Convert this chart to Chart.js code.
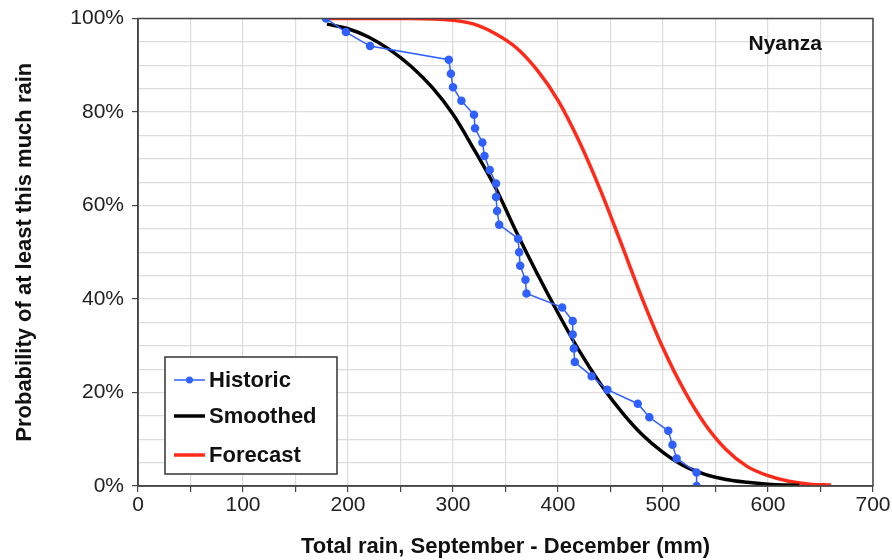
<!DOCTYPE html>
<html>
<head>
<meta charset="utf-8">
<script src="https://cdn.jsdelivr.net/npm/chart.js@4/dist/chart.umd.min.js"></script>
<style>
  html, body { margin: 0; padding: 0; background: #fff; }
  #wrap { width: 892px; height: 560px; }
</style>
</head>
<body>
<div id="wrap"><canvas id="rainChart" width="892" height="560"></canvas></div>
<script>
// Series names and the region label
const seriesNames = ['Historic', 'Smoothed', 'Forecast'];
const regionName = 'Nyanza';

// Historic observations: rain (mm) and probability of exceedance (%)
const historicRain = [179, 198, 221, 296, 298, 300, 308, 320, 321, 328, 330, 335,
    341, 341, 342, 344, 362, 363, 364, 369, 370, 404, 414, 414, 415, 416,
    432, 447, 476, 487, 505, 509, 513, 532, 532];
const historicProb = [100, 97.1, 94.1, 91.2, 88.2, 85.3, 82.4, 79.4, 76.5, 73.5, 70.6, 67.6,
    64.7, 61.8, 58.8, 55.9, 52.9, 50.0, 47.1, 44.1, 41.2, 38.2, 35.3, 32.4, 29.4, 26.5,
    23.5, 20.6, 17.6, 14.7, 11.8, 8.8, 5.9, 2.9, 0];

// Smoothed curve
const smoothRain = [180, 200, 220, 240, 260, 280, 300, 320, 340, 360, 380, 400, 420,
    440, 460, 480, 500, 520, 540, 560, 580, 600, 630];
const smoothProb = [98.8, 97.8, 96.0, 93.3, 89.8, 85.3, 79.5, 72.0, 64.0, 54.5, 45.5, 37.0, 29.0,
    22.0, 16.0, 11.0, 7.2, 4.3, 2.5, 1.4, 0.8, 0.4, 0.1];

// Forecast curve
const forecastRain = [181, 260, 300, 320, 340, 360, 380, 400, 420, 440, 460, 480, 500,
    520, 540, 560, 580, 600, 620, 640, 660];
const forecastProb = [100, 100, 99.6, 98.8, 96.8, 93.8, 89.0, 82.5, 73.8, 63.5, 52.0, 40.2, 29.5,
    20.5, 13.2, 7.8, 4.2, 2.2, 1.0, 0.4, 0.2];

function toPoints(xs, ys) {
    return xs.map(function(x, i) { return { x: x, y: ys[i] }; });
}

const FONT = "'Liberation Sans', Arial, sans-serif";

// plot frame, region label and boxed legend inside the plot area
const extrasPlugin = {
    id: 'extras',
    afterDraw: function(chart) {
        const ctx = chart.ctx;
        const area = chart.chartArea;
        ctx.save();
        ctx.strokeStyle = '#444';
        ctx.lineWidth = 1.5;
        ctx.strokeRect(area.left, area.top, area.right - area.left, area.bottom - area.top);

        ctx.fillStyle = '#111';
        ctx.font = 'bold 21px ' + FONT;
        ctx.textAlign = 'right';
        ctx.textBaseline = 'middle';
        ctx.fillText(regionName, area.right - 51, area.top + 26);

        // legend box
        const bx = area.left + 27, bw = 172, bh = 117;
        const by = area.bottom - 12 - bh;
        ctx.fillStyle = '#fff';
        ctx.fillRect(bx, by, bw, bh);
        ctx.strokeStyle = '#333';
        ctx.lineWidth = 1.5;
        ctx.strokeRect(bx, by, bw, bh);

        const rowY = [by + 23, by + 59, by + 98];
        chart.data.datasets.forEach(function(ds, i) {
            const y = rowY[i];
            ctx.strokeStyle = ds.borderColor;
            ctx.lineWidth = ds.borderWidth;
            ctx.beginPath();
            ctx.moveTo(bx + 9, y);
            ctx.lineTo(bx + 40, y);
            ctx.stroke();
            if (ds.pointRadius > 0) {
                ctx.fillStyle = ds.pointBackgroundColor;
                ctx.beginPath();
                ctx.arc(bx + 24.5, y, 3.5, 0, Math.PI * 2);
                ctx.fill();
            }
            ctx.fillStyle = '#111';
            ctx.font = 'bold 22px ' + FONT;
            ctx.textAlign = 'left';
            ctx.textBaseline = 'middle';
            ctx.fillText(ds.label, bx + 44, y + 1);
        });
        ctx.restore();
    }
};

const ctx = document.getElementById('rainChart').getContext('2d');
new Chart(ctx, {
    type: 'line',
    data: {
        datasets: [{
            label: seriesNames[0],
            data: toPoints(historicRain, historicProb),
            borderColor: '#3060ff',
            backgroundColor: '#3060ff',
            pointBackgroundColor: '#3060ff',
            pointBorderColor: '#3060ff',
            borderWidth: 1.5,
            pointRadius: 3.5,
            tension: 0
        }, {
            label: seriesNames[1],
            data: toPoints(smoothRain, smoothProb),
            borderColor: '#000',
            backgroundColor: '#000',
            borderWidth: 3.5,
            pointRadius: 0,
            cubicInterpolationMode: 'monotone'
        }, {
            label: seriesNames[2],
            data: toPoints(forecastRain, forecastProb),
            borderColor: '#ff2a1a',
            backgroundColor: '#ff2a1a',
            borderWidth: 3.5,
            pointRadius: 0,
            cubicInterpolationMode: 'monotone'
        }]
    },
    options: {
        responsive: false,
        animation: false,
        layout: { padding: { left: 0, right: 19, top: 16, bottom: 0 } },
        plugins: {
            legend: { display: false },
            tooltip: { enabled: false }
        },
        scales: {
            x: {
                type: 'linear',
                min: 0,
                max: 700,
                afterFit: function(scale) { scale.height = 74; },
                ticks: {
                    stepSize: 50,
                    autoSkip: false,
                    maxRotation: 0,
                    padding: 1,
                    color: '#222',
                    font: { family: FONT, size: 21 },
                    callback: function(v) { return v % 100 === 0 ? v : ''; }
                },
                grid: {
                    color: '#dcdcdc',
                    tickColor: '#444',
                    tickLength: 6,
                    lineWidth: 1.2
                },
                border: { color: '#444', width: 1.5 },
                title: {
                    display: true,
                    text: 'Total rain, September - December (mm)',
                    color: '#111',
                    font: { family: FONT, size: 22, weight: 'bold' },
                    padding: { top: 0, bottom: 0 }
                }
            },
            y: {
                min: 0,
                max: 100,
                afterFit: function(scale) { scale.width = 138; },
                ticks: {
                    stepSize: 5,
                    autoSkip: false,
                    padding: 8,
                    color: '#222',
                    font: { family: FONT, size: 21, lineHeight: 1 },
                    callback: function(v) { return v % 20 === 0 ? v + '%' : ''; }
                },
                grid: {
                    color: '#dcdcdc',
                    tickColor: function(c) { return c.tick && c.tick.value % 20 === 0 ? '#444' : 'rgba(0,0,0,0)'; },
                    tickLength: 6,
                    lineWidth: 1.2
                },
                border: { color: '#444', width: 1.5 },
                title: {
                    display: true,
                    text: 'Probability of at least this much rain',
                    color: '#111',
                    font: { family: FONT, size: 22, weight: 'bold' },
                    padding: { top: 12, bottom: 0 }
                }
            }
        }
    },
    plugins: [extrasPlugin]
});
</script>
</body>
</html>
